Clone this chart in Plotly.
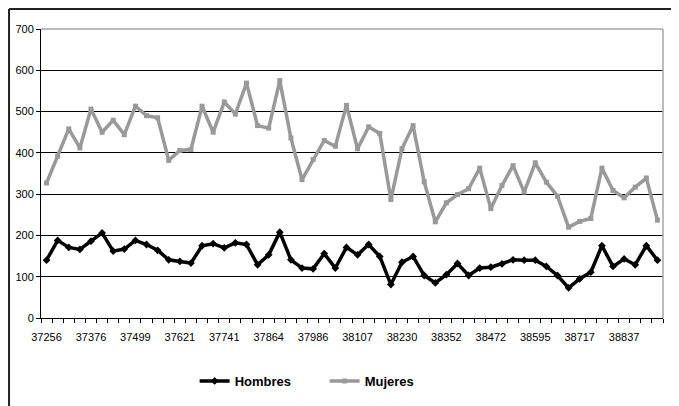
import plotly.graph_objects as go

# Excel date serials, one per month (Jan 2002 - Aug 2006)
categories = [
    "37256", "37287", "37315", "37346", "37376", "37407", "37437", "37468",
    "37499", "37529", "37560", "37590", "37621", "37652", "37680", "37711",
    "37741", "37772", "37802", "37833", "37864", "37894", "37925", "37955",
    "37986", "38017", "38046", "38077", "38107", "38138", "38168", "38199",
    "38230", "38260", "38291", "38321", "38352", "38383", "38411", "38442",
    "38472", "38503", "38533", "38564", "38595", "38625", "38656", "38686",
    "38717", "38748", "38776", "38807", "38837", "38868", "38898", "38929",
]

hombres = [
    140, 188, 171, 166, 186, 206, 162, 167, 188, 178, 164, 141, 137, 133, 175, 180,
    170, 182, 178, 129, 153, 208, 141, 121, 119, 156, 121, 171, 153, 178, 149, 81,
    135, 149, 103, 85, 105, 132, 103, 121, 123, 131, 141, 140, 140, 125, 103, 73,
    95, 111, 175, 125, 143, 129, 175, 140,
]

mujeres = [
    327, 392, 458, 412, 506, 450, 479, 444, 513, 490, 485, 382, 406, 408, 513, 450,
    523, 494, 569, 466, 460, 575, 436, 335, 384, 430, 416, 515, 410, 463, 447, 287,
    410, 466, 330, 233, 279, 299, 313, 363, 265, 321, 369, 305, 376, 329, 295, 220,
    234, 241, 363, 309, 291, 317, 339, 237,
]

# only every 4th category gets a label
tick_text = [c if i % 4 == 0 else "" for i, c in enumerate(categories)]

fig = go.Figure()

fig.add_trace(go.Scatter(
    x=categories, y=hombres, name="Hombres", mode="lines+markers",
    line=dict(color="#000000", width=3.5),
    marker=dict(symbol="diamond", size=6, color="#000000"),
))

fig.add_trace(go.Scatter(
    x=categories, y=mujeres, name="Mujeres", mode="lines+markers",
    line=dict(color="#999999", width=3.5),
    marker=dict(symbol="square", size=5, color="#999999"),
))

fig.update_layout(
    width=679, height=406,
    margin=dict(l=33, r=24, t=21, b=96),
    paper_bgcolor="white",
    plot_bgcolor="white",
    font=dict(family="Liberation Sans, Arial, sans-serif", size=11, color="#000000"),
    showlegend=True,
    legend=dict(
        orientation="h", x=0.247, xanchor="left", y=-0.218, yanchor="middle",
        font=dict(size=13, family="Liberation Sans, Arial, sans-serif", weight="bold"),
        entrywidth=85, entrywidthmode="pixels", tracegroupgap=0,
    ),
    xaxis=dict(
        type="category",
        tickmode="array", tickvals=categories, ticktext=tick_text,
        tickson="boundaries", ticks="outside", ticklen=4, tickcolor="#000000",
        tickangle=0, automargin=False, ticklabelstandoff=9,
        showgrid=False, showline=True, linecolor="#000000", linewidth=1,
        range=[-0.5, len(categories) - 0.5],
        tickfont=dict(size=11),
        zeroline=False,
    ),
    yaxis=dict(
        range=[0, 700], dtick=100, tick0=0,
        ticks="outside", ticklen=4, tickcolor="#000000",
        automargin=False,
        showgrid=True, gridcolor="#000000", gridwidth=1,
        showline=True, linecolor="#000000", linewidth=1,
        zeroline=False,
        tickfont=dict(size=11),
    ),
    shapes=[
        # plot area border (top and right)
        dict(type="line", xref="paper", yref="paper", x0=0, x1=1, y0=1, y1=1,
             line=dict(color="#a6a6a6", width=1.5), layer="above"),
        dict(type="line", xref="paper", yref="paper", x0=1, x1=1, y0=0, y1=1,
             line=dict(color="#a6a6a6", width=1.5), layer="above"),
        # outer chart border (top and left, cropped off elsewhere)
        dict(type="line", xref="paper", yref="paper", x0=-0.0514, x1=1.1, y0=1.069, y1=1.069,
             line=dict(color="#222222", width=2)),
        dict(type="line", xref="paper", yref="paper", x0=-0.0514, x1=-0.0514, y0=-0.4, y1=1.069,
             line=dict(color="#222222", width=2)),
    ],
)

fig.write_html("out.html")
